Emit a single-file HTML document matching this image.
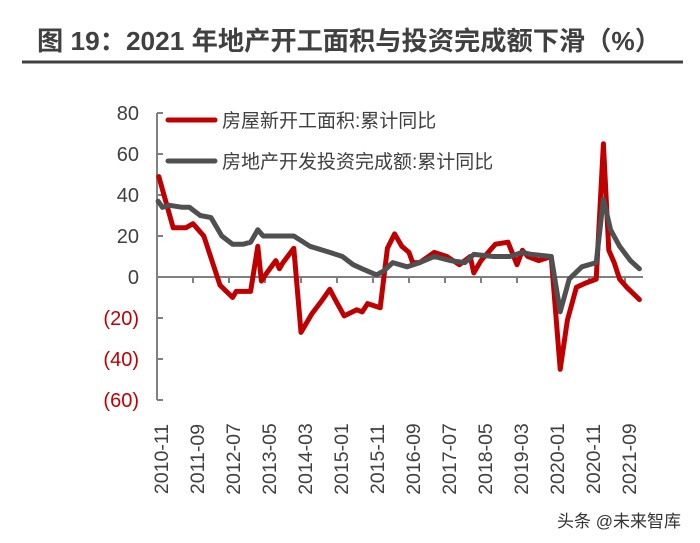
<!DOCTYPE html>
<html><head><meta charset="utf-8"><style>
html,body{margin:0;padding:0;background:#fff;}
body{width:700px;height:538px;overflow:hidden;font-family:"Liberation Sans","Noto Sans CJK SC",sans-serif;}
</style></head><body>
<svg id="chart" width="700" height="538" xmlns="http://www.w3.org/2000/svg" font-family="Liberation Sans, Noto Sans CJK SC, sans-serif">
<text x="37" y="50" font-size="26" font-weight="bold" fill="#404040" textLength="624" lengthAdjust="spacingAndGlyphs">图 19：2021 年地产开工面积与投资完成额下滑（%）</text>
<line x1="22" y1="62" x2="683" y2="62" stroke="#404040" stroke-width="3"/>
<g id="axes"></g>
<g id="series"></g>
<g>
<line x1="168" y1="120" x2="215" y2="120" stroke="#c00000" stroke-width="5" stroke-linecap="round"/>
<text x="222" y="127" font-size="19" fill="#404040">房屋新开工面积:累计同比</text>
<line x1="168" y1="161" x2="215" y2="161" stroke="#505050" stroke-width="5" stroke-linecap="round"/>
<text x="222" y="168" font-size="19" fill="#404040">房地产开发投资完成额:累计同比</text>
</g>
<text x="557" y="527" font-size="17" fill="#333">头条 @未来智库</text>
</svg>
<script>
const yTicks = [80, 60, 40, 20, 0, -20, -40, -60];
const yTickLabels = ["80", "60", "40", "20", "0", "(20)", "(40)", "(60)"];
const xTickLabels = ["2010-11","2011-09","2012-07","2013-05","2014-03","2015-01","2015-11","2016-09","2017-07","2018-05","2019-03","2020-01","2020-11","2021-09"];
// months since 2010-11
const startsMonths = [0.5,4.5,8,10,13,17.5,21,22,26,28,29,30.5,33,34,35,38,40,43,46,48,49.5,52,55.5,57,58.5,62,64,66,68,70,71,73,77,80.5,84,87,88,90,91.5,94,97.5,100,101.5,103,106,109.5,112,114,116.5,119,122,124,125.5,127,128.5,130.5,134];
const startsValues = [49,24,24,26,20,-4,-10,-7,-7,15,-2,2,8,4,7,14,-27,-18,-11,-6,-11,-19,-16,-17,-13,-15,14,21,15,12,7,7,12,10,6,10,2,8,11,16,17,6,13,10,8,10,-45,-21,-5,-3,-1,65,13,7,-1,-5,-11];
const investMonths = [0.3,1.5,3.5,7,9,12,15,18,21,24,26,28,29.5,33,35,38,42.5,48,51.5,54.5,57,61,63,65.5,69.5,73,77,81.5,85.5,88,93.5,98,101.5,104,109.5,112,114.5,118,122,124,126,128.5,131.5,134];
const investValues = [37,34,35,34,34,30,29,20,16,16,17,23,20,20,20,20,15,12,10,6,4,1,3,7,5,7,10,8,7,11,10,10,12,11,10,-17,-1,5,7,38,23,15,8,4];

const NS="http://www.w3.org/2000/svg";
const x0=157, pxPerMonth=3.6, y0=277, pxPerUnit=2.05;
function xs(m){return x0+m*pxPerMonth;}
function ys(v){return y0-v*pxPerUnit;}
function mk(tag,attrs,parent){const e=document.createElementNS(NS,tag);for(const k in attrs)e.setAttribute(k,attrs[k]);parent.appendChild(e);return e;}
const axes=document.getElementById('axes');
const ser=document.getElementById('series');

const yAxis=mk('line',{x1:x0,y1:ys(80),x2:x0,y2:ys(-60),stroke:'#808080','stroke-width':2},axes);


yTicks.forEach((t,i)=>{
  const tk=mk('line',{x1:x0,y1:ys(t),x2:x0+6,y2:ys(t),stroke:'#808080','stroke-width':2},axes);
  
  
  const lb=mk('text',{x:x0-18,y:ys(t)+7,'text-anchor':'end','font-size':20,fill:t<0?'#c00000':'#404040'},axes);
  lb.textContent=yTickLabels[i];
  
  
});
const xAxis=mk('line',{x1:x0,y1:y0,x2:xs(135),y2:y0,stroke:'#808080','stroke-width':2},axes);


xTickLabels.forEach((l,i)=>{
  const m=i*10;
  const tk=mk('line',{x1:xs(m),y1:y0,x2:xs(m),y2:y0+6,stroke:'#808080','stroke-width':2},axes);
  
  
  const cx=xs(m)+4, cy=459;
  const lb=mk('text',{x:cx,y:cy,'text-anchor':'middle','font-size':19.5,fill:'#404040',transform:`rotate(-90 ${cx} ${cy}) translate(0 7)`},axes);
  lb.textContent=l;
  
  
});
function path(ms,vs){return ms.map((m,i)=>(i?'L':'M')+xs(m).toFixed(1)+','+ys(vs[i]).toFixed(1)).join(' ');}
const p1=mk('path',{d:path(startsMonths,startsValues),fill:'none',stroke:'#c00000','stroke-width':5,'stroke-linejoin':'round','stroke-linecap':'round'},ser);


const p2=mk('path',{d:path(investMonths,investValues),fill:'none',stroke:'#505050','stroke-width':5,'stroke-linejoin':'round','stroke-linecap':'round'},ser);


</script>
</body></html>
